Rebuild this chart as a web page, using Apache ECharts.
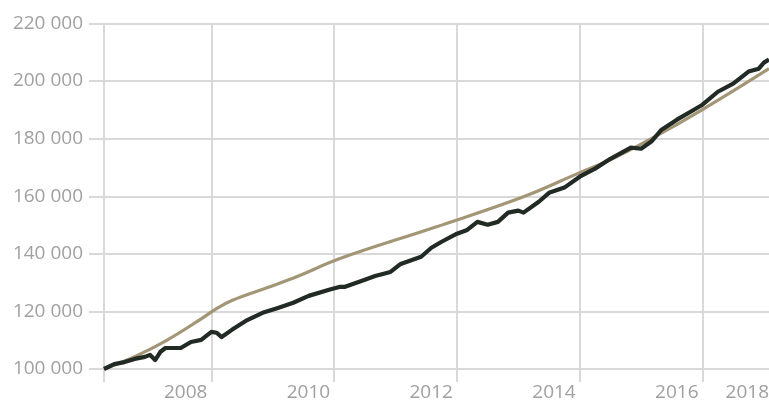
<!DOCTYPE html>
<html>
<head>
<meta charset="utf-8">
<script src="https://cdn.jsdelivr.net/npm/echarts@6/dist/echarts.min.js"></script>
<style>
  html, body { margin: 0; padding: 0; background: #fff; }
  #chart { width: 769px; height: 401px; }
</style>
</head>
<body>
<div id="chart"></div>
<script>
// months on the x axis, 2007-03 .. 2018-01
var firstYear = 2007, firstMonth = 3, monthCount = 131;

var blackMonths = ['2007-03','2007-05','2007-07','2007-09','2007-11','2007-12','2008-01','2008-02','2008-03','2008-06',
  '2008-08','2008-10','2008-12','2009-01','2009-02','2009-04','2009-07','2009-10','2010-01','2010-04',
  '2010-07','2010-11','2011-01','2011-02','2011-06','2011-08','2011-11','2012-01','2012-05','2012-07',
  '2012-09','2012-12','2013-02','2013-04','2013-06','2013-08','2013-10','2013-12','2014-01','2014-04',
  '2014-06','2014-09','2014-12','2015-03','2015-06','2015-10','2015-12','2016-02','2016-04','2016-07',
  '2016-10','2016-12','2017-03','2017-06','2017-09','2017-11','2017-12','2018-01'];
var blackValues = [100000,101700,102400,103500,104200,104900,103100,105900,107300,107300,
  109400,110100,112900,112600,111100,113600,117000,119500,121200,123000,
  125400,127500,128500,128500,131000,132300,133700,136500,139000,142100,
  144200,147000,148300,151100,150100,151100,154300,155000,154300,158100,
  161200,163000,166800,169600,173000,176900,176500,179000,183100,186600,
  189700,191800,196300,199100,203300,204300,206400,207500];

// smooth tan line
var tanMonths = ['2007-03','2007-09','2008-03','2008-10','2009-01','2009-04','2009-11','2010-05','2011-01',
  '2012-08','2014-01','2014-12','2015-06','2016-02','2016-12','2018-01'];
var tanValues = [100000,104300,109700,117400,121000,123800,128300,132300,138300,
  149400,159800,168200,172700,180000,190100,204300];

var yMin = 100000, yMax = 220000, yStep = 20000;

var months = [];
for (var k = 0; k < monthCount; k++) {
  var m = firstMonth - 1 + k;
  var y = firstYear + Math.floor(m / 12);
  var mm = (m % 12) + 1;
  months.push(y + '-' + (mm < 10 ? '0' + mm : mm));
}

function isYearMark(value) {
  var y = +value.slice(0, 4);
  return value.slice(5) === '12' && y % 2 === 0;
}

var gridColor = '#d9d9d9';
var labelFont = { color: '#a0a0a0', fontSize: 19, fontFamily: 'Open Sans' };

var myChart = echarts.init(document.getElementById('chart'));
var option = {
  animation: false,
  grid: { left: 104, right: 0, top: 23.5, bottom: 32, outerBoundsMode: 'none' },
  xAxis: {
    type: 'category',
    boundaryGap: false,
    data: months,
    axisLine: { show: false },
    axisTick: {
      show: true,
      length: 13,
      interval: function (i, v) { return i === 0 || isYearMark(v); },
      lineStyle: { color: gridColor, width: 2 }
    },
    splitLine: {
      show: true,
      interval: function (i, v) { return isYearMark(v); },
      lineStyle: { color: gridColor, width: 2 }
    },
    axisLabel: Object.assign({
      interval: function (i, v) { return isYearMark(v) || i === monthCount - 1; },
      formatter: function (v, i) {
        // year labels sit just left of their gridline, the last one at the edge
        return (i === monthCount - 1 ? '{last|' : '{yr|') + v.slice(0, 4) + '}';
      },
      rich: {
        yr: Object.assign({ padding: [0, 4, 0, 0] }, labelFont),
        last: Object.assign({ padding: [0, 0, 0, 0] }, labelFont)
      },
      align: 'right',
      margin: 14
    }, labelFont)
  },
  yAxis: {
    type: 'value',
    min: yMin,
    max: yMax,
    interval: yStep,
    axisLine: { show: true, lineStyle: { color: gridColor, width: 2 } },
    axisTick: { show: true, length: 15, lineStyle: { color: gridColor, width: 2 } },
    splitLine: { show: true, lineStyle: { color: gridColor, width: 2 } },
    axisLabel: Object.assign({
      margin: 21,
      formatter: function (v) { return String(v).replace(/\B(?=(\d{3})+(?!\d))/g, ' '); }
    }, labelFont)
  },
  series: [
    {
      type: 'line',
      data: tanMonths.map(function (m, i) { return [m, tanValues[i]]; }),
      smooth: 0.4,
      connectNulls: true,
      showSymbol: false,
      symbol: 'none',
      lineStyle: { color: '#a39676', width: 3.2 },
      z: 2
    },
    {
      type: 'line',
      data: blackMonths.map(function (m, i) { return [m, blackValues[i]]; }),
      connectNulls: true,
      showSymbol: false,
      symbol: 'none',
      lineStyle: { color: '#222a24', width: 4.2, join: 'round' },
      z: 3
    }
  ]
};
myChart.setOption(option);
</script>
</body>
</html>
